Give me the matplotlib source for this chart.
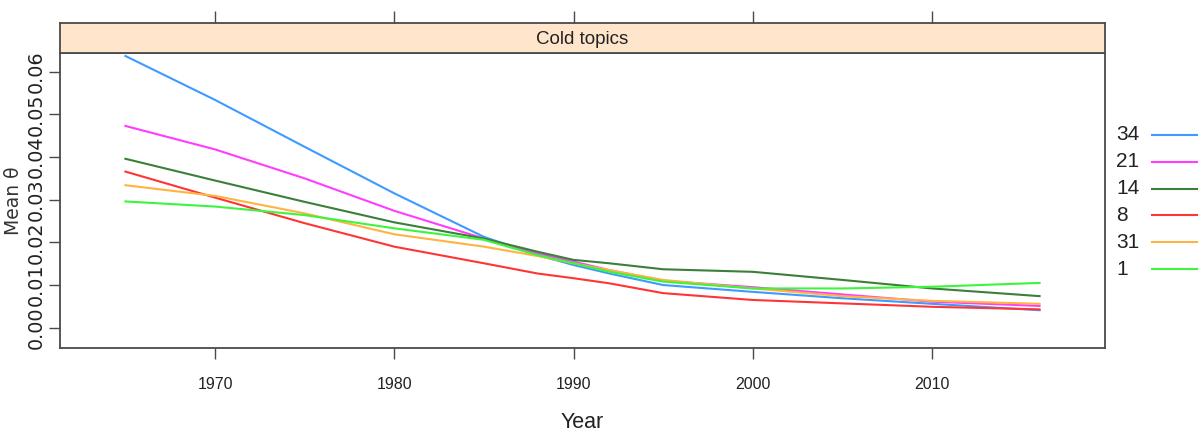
import matplotlib
matplotlib.use("Agg")
import matplotlib.pyplot as plt
from matplotlib.lines import Line2D

years = [1965, 1970, 1975, 1980, 1985, 1988, 1990, 1992, 1995, 2000, 2005, 2010, 2016]
topic_labels = ["34", "21", "14", "8", "31", "1"]
topic_34 = [0.0637, 0.0534, 0.0424, 0.0315, 0.0213, 0.0170, 0.0147, 0.0127, 0.0100, 0.0084, 0.0069, 0.0056, 0.0041]
topic_21 = [0.0473, 0.0418, 0.0350, 0.0274, 0.0209, 0.0174, 0.0155, 0.0135, 0.0110, 0.0095, 0.0078, 0.0061, 0.0051]
topic_14 = [0.0396, 0.0345, 0.0295, 0.0247, 0.0209, 0.0178, 0.0159, 0.0151, 0.0137, 0.0131, 0.0112, 0.0092, 0.0074]
topic_8 = [0.0366, 0.0305, 0.0245, 0.0190, 0.0151, 0.0127, 0.0116, 0.0104, 0.0081, 0.0065, 0.0057, 0.0049, 0.0043]
topic_31 = [0.0334, 0.0309, 0.0268, 0.0219, 0.0190, 0.0168, 0.0151, 0.0135, 0.0112, 0.0092, 0.0074, 0.0063, 0.0056]
topic_1 = [0.0296, 0.0284, 0.0264, 0.0233, 0.0206, 0.0170, 0.0151, 0.0131, 0.0108, 0.0092, 0.0092, 0.0096, 0.0105]
series = [topic_34, topic_21, topic_14, topic_8, topic_31, topic_1]
colors = ["#3d9bff", "#ff3cff", "#3a803a", "#ff3535", "#ffb340", "#3cf53c"]

x_ticks = [1970, 1980, 1990, 2000, 2010]
y_ticks = [0.00, 0.01, 0.02, 0.03, 0.04, 0.05, 0.06]

narrow = "Liberation Sans"
frame_col = "#4a4a4a"
txt_col = "#222222"

W, H = 1202, 436
fig = plt.figure(figsize=(W / 100, H / 100), dpi=100)

# main panel
ax = fig.add_axes([60 / W, 1 - 348 / H, (1105 - 60) / W, (348 - 53) / H])
for c, vals in zip(colors, series):
    ax.plot(years, vals, color=c, lw=1.5)
ax.set_xlim(1961.35, 2019.65)
ax.set_ylim(-0.00476, 0.0644)
ax.set_xticks(x_ticks)
ax.set_xticklabels([str(t) for t in x_ticks], family=narrow, fontsize=11.5, color=txt_col)
ax.set_yticks(y_ticks)
ax.set_yticklabels(["%.2f" % t for t in y_ticks], rotation=90, va="center",
                   fontsize=13.8, color=txt_col)
ax.tick_params(axis="x", direction="out", length=8, width=1, color=frame_col, pad=13)
ax.tick_params(axis="y", direction="out", length=8, width=1, color=frame_col, pad=2)
for s in ax.spines.values():
    s.set_color(frame_col)
    s.set_linewidth(1.3)
ax.set_xlabel("Year", family=narrow, fontsize=15.5, color=txt_col, labelpad=14)
ax.set_ylabel("Mean \u03b8", fontsize=13.5, color="#333333", labelpad=3)

# strip on top
strip = fig.add_axes([60 / W, 1 - 53 / H, (1105 - 60) / W, 30 / H])
strip.set_facecolor("#ffe5cc")
strip.set_xlim(ax.get_xlim())
strip.set_ylim(0, 1)
strip.set_xticks(x_ticks)
strip.xaxis.tick_top()
strip.tick_params(axis="x", direction="out", length=9, width=1, color=frame_col, labeltop=False)
strip.set_yticks([])
for s in strip.spines.values():
    s.set_color(frame_col)
    s.set_linewidth(1.3)
strip.text(0.5, 0.45, "Cold topics", transform=strip.transAxes, ha="center", va="center",
           family=narrow, fontsize=13.5, color=txt_col)

# legend at right, labels first then line
row_y = 135
for lab, c in zip(topic_labels, colors):
    fy = 1 - row_y / H
    fig.text(1116 / W, fy, lab, ha="left", va="center", family=narrow, fontsize=15, color=txt_col)
    fig.add_artist(Line2D([1152 / W, 1197 / W], [fy, fy], color=c, lw=1.5,
                          transform=fig.transFigure))
    row_y += 26.8

fig.savefig("out.png", dpi=100)
